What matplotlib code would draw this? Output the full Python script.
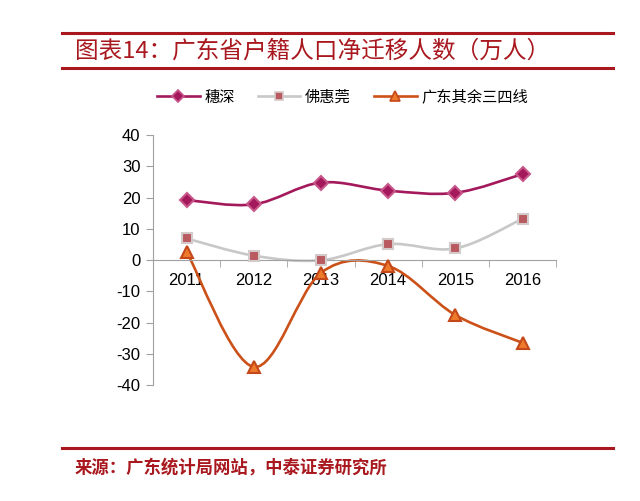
import matplotlib.pyplot as plt
from matplotlib.path import Path
from matplotlib.patches import PathPatch
from matplotlib.lines import Line2D

plt.rcParams['font.family'] = ['Liberation Sans', 'Noto Sans CJK SC', 'DejaVu Sans']
plt.rcParams['axes.unicode_minus'] = False

years = ['2011', '2012', '2013', '2014', '2015', '2016']
suishen = [19.2, 17.8, 24.8, 22.2, 21.5, 27.5]
fohuiguan = [6.9, 1.4, -0.1, 5.1, 3.7, 13.2]
others = [2.7, -34.2, -4.1, -1.9, -17.6, -26.5]

labels = ['穗深', '佛惠莞', '广东其余三四线']
title = '图表14：广东省户籍人口净迁移人数（万人）'
source = '来源：广东统计局网站，中泰证券研究所'

red = '#A8181E'
cjk = ['Noto Sans CJK SC', 'DejaVu Sans']


def smooth_path(xs, ys):
    # Bezier smoothing (Catmull-Rom style) like Excel's smoothed line
    n = len(xs)
    verts = [(xs[0], ys[0])]
    codes = [Path.MOVETO]
    for i in range(n - 1):
        a = max(i - 1, 0)
        b = min(i + 2, n - 1)
        c1 = (xs[i] + (xs[i + 1] - xs[a]) / 6.0, ys[i] + (ys[i + 1] - ys[a]) / 6.0)
        c2 = (xs[i + 1] - (xs[b] - xs[i]) / 6.0, ys[i + 1] - (ys[b] - ys[i]) / 6.0)
        verts += [c1, c2, (xs[i + 1], ys[i + 1])]
        codes += [Path.CURVE4] * 3
    return Path(verts, codes)


fig = plt.figure(figsize=(6.4, 5.01), dpi=100)
ax = fig.add_axes([0.239, 0.2315, 0.630, 0.499])

x = list(range(len(years)))
styles = [
    (suishen, '#A3195B', 'D', '#A3195B', '#C8568A', 7),
    (fohuiguan, '#C8C8C8', 's', '#B85A60', '#D5CACA', 7),
    (others, '#CC5119', '^', '#EE7A2C', '#C4481A', 8),
]
handles = []
for (vals, lc, mk, mfc, mec, ms), lab in zip(styles, labels):
    ax.add_patch(PathPatch(smooth_path(x, vals), fill=False, edgecolor=lc, lw=1.9, zorder=2))
    ax.plot(x, vals, linestyle='none', marker=mk, markersize=ms, markerfacecolor=mfc,
            markeredgecolor=mec, markeredgewidth=1.5, zorder=3)
    handles.append(Line2D([], [], color=lc, lw=1.9, marker=mk, markersize=ms * 0.85,
                          markerfacecolor=mfc, markeredgecolor=mec, markeredgewidth=1.2))

ax.set_xlim(-0.5, 5.5)
ax.set_ylim(-40, 40)
ax.set_yticks(range(-40, 41, 10))
ax.set_xticks(x)
ax.set_xticklabels(years)
ax.set_xticks([i + 0.5 for i in range(-1, 6)], minor=True)

for s in ['top', 'right']:
    ax.spines[s].set_visible(False)
ax.spines['bottom'].set_position(('data', 0))
ax.spines['bottom'].set_color('#A0A0A0')
ax.spines['left'].set_color('#A0A0A0')
ax.tick_params(axis='y', colors='#A0A0A0', labelcolor='black', labelsize=12, length=5,
               direction='out', pad=4)
ax.tick_params(axis='x', which='major', length=0, labelsize=12, pad=9)
ax.tick_params(axis='x', which='minor', length=5, color='#A0A0A0', direction='out')

fig.legend(handles, labels, loc='center', bbox_to_anchor=(0.535, 0.806), ncol=3, frameon=False,
           handlelength=2.8, columnspacing=1.5, handletextpad=0.3,
           prop={'family': cjk, 'size': 11})

# header and footer
for yy in [0.934, 0.864, 0.106]:
    fig.add_artist(Line2D([0.097, 0.958], [yy, yy], color=red, lw=2.2))
fig.text(0.117, 0.899, title, color=red, fontsize=17, fontweight='medium', va='center',
         family=cjk)
fig.text(0.117, 0.066, source, color=red, fontsize=12.5, fontweight='bold', va='center',
         family=cjk)

fig.savefig('out.png', dpi=100)
